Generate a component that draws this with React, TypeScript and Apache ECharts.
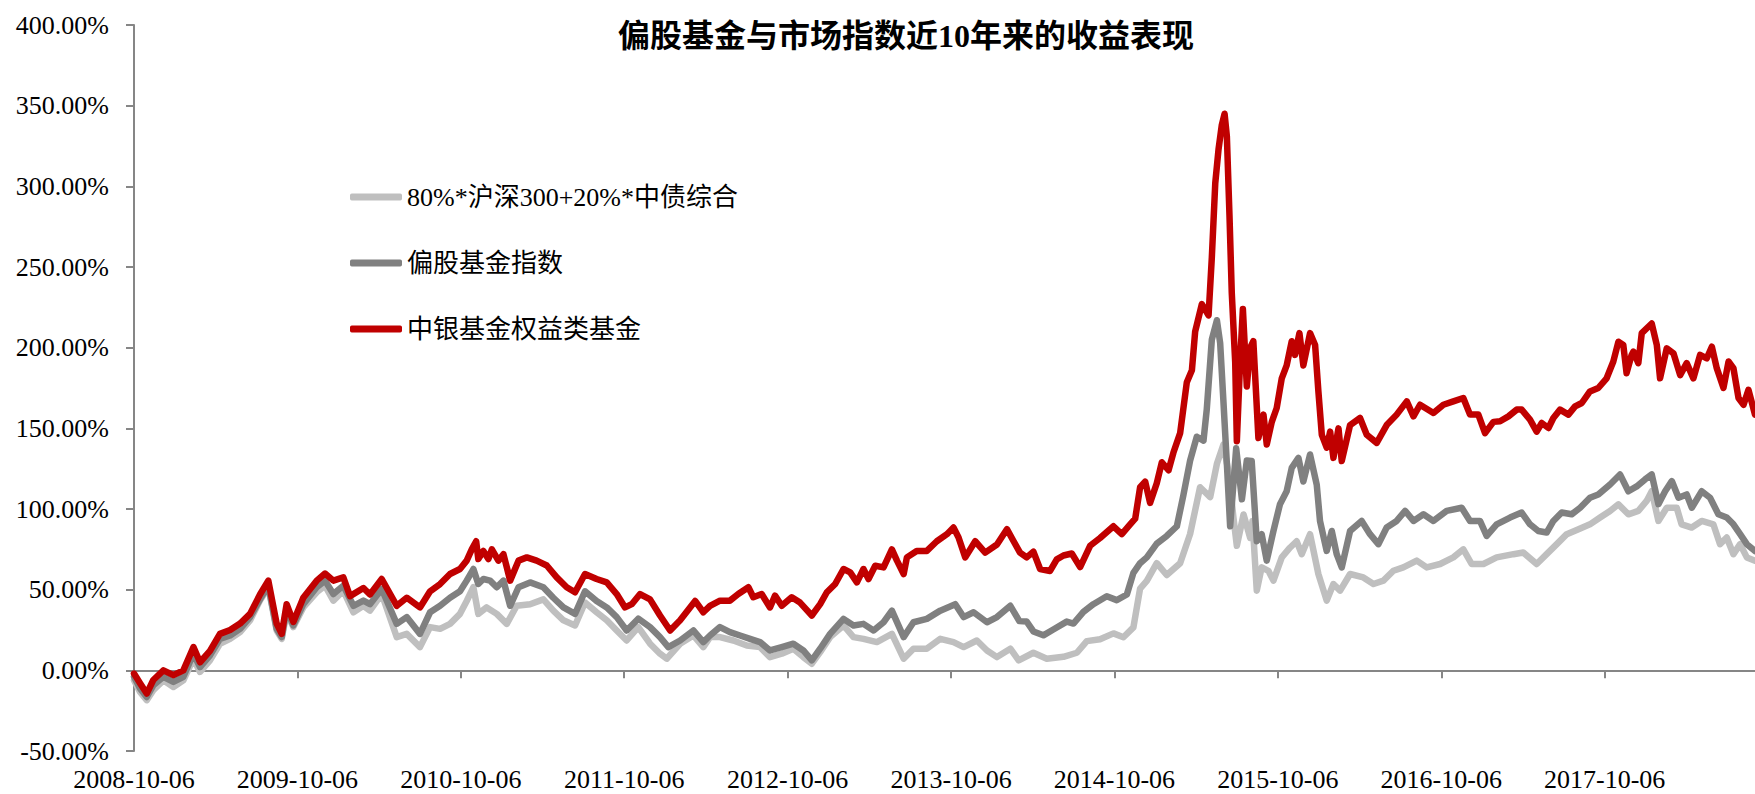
import React, { useEffect, useRef } from 'react';
import * as echarts from 'echarts';

const chartTitle = '偏股基金与市场指数近10年来的收益表现';
const seriesNames = ['80%*沪深300+20%*中债综合', '偏股基金指数', '中银基金权益类基金'];
const seriesColors = ['#BFBFBF', '#808080', '#C00000'];
// x = years elapsed since 2008-10-06
const startYear = 2008;
const tickYears = [0, 1, 2, 3, 4, 5, 6, 7, 8, 9];
const endYears = 9.92;
const yTicks = { min: -50, max: 400, step: 50 };

// 80%*沪深300+20%*中债综合
const lightT = [0, 0.037, 0.078, 0.118, 0.18, 0.241, 0.302, 0.364, 0.404, 0.465, 0.526, 0.588, 0.649, 0.71, 0.771, 0.822, 0.873, 0.904, 0.934, 0.975, 1.036, 1.118, 1.169, 1.22, 1.281, 1.343, 1.404, 1.444, 1.516, 1.608, 1.669,
  1.75, 1.812, 1.873, 1.934, 1.995, 2.036, 2.077, 2.107, 2.158, 2.22, 2.281, 2.342, 2.424, 2.505, 2.566, 2.628, 2.699, 2.76, 2.831, 2.893, 2.954, 3.015, 3.086, 3.158, 3.219, 3.26, 3.342, 3.423, 3.484, 3.525,
  3.586, 3.668, 3.75, 3.831, 3.892, 3.964, 4.035, 4.096, 4.148, 4.199, 4.26, 4.342, 4.403, 4.464, 4.546, 4.638, 4.71, 4.77, 4.852, 4.934, 5.015, 5.077, 5.158, 5.22, 5.281, 5.363, 5.414,
  5.504, 5.586, 5.688, 5.77, 5.831, 5.912, 5.994, 6.055, 6.116, 6.157, 6.198, 6.259, 6.32, 6.402, 6.463, 6.524, 6.586, 6.627, 6.667, 6.698, 6.729, 6.749, 6.79, 6.831,
  6.845, 6.871, 6.901, 6.942, 6.973, 7.024, 7.074, 7.115, 7.146, 7.197, 7.248, 7.299, 7.34, 7.381, 7.442, 7.523, 7.585, 7.646, 7.707, 7.768, 7.85, 7.911, 7.993, 8.074, 8.135, 8.186, 8.258, 8.339,
  8.442, 8.502, 8.584, 8.645, 8.707, 8.768, 8.84, 8.91, 8.972, 9.033, 9.084, 9.145, 9.206, 9.257, 9.288, 9.329, 9.38, 9.441, 9.471, 9.533, 9.594, 9.665, 9.706, 9.747, 9.788, 9.829, 9.87, 9.92];
const lightV = [-6.2, -13.4, -18.5, -12.3, -6.2, -10.3, -6.2, 7.2, -1, 6.2, 16.5, 19.5, 23.7, 30.9, 43.2, 51.5, 24.7, 19.5, 36, 26.8, 39, 48.4, 52.5, 43.2, 49.4, 36, 40, 37, 47.3, 20.6, 22.6,
  14.4, 26.8, 25.7, 28.8, 35, 43, 51.5, 35, 39, 35, 28.8, 40, 41, 44, 37, 31, 27.8, 42, 36, 31, 24.7, 18.5, 26.8, 16.5, 10.3, 7.2, 16.5, 21.6, 14.4, 20.6,
  20.6, 18.5, 15.4, 14.4, 8.2, 10.3, 13.4, 8.2, 4.1, 11.3, 20.6, 27.8, 20.6, 19.5, 17.5, 22.6, 7.2, 13.4, 13.4, 19.5, 17.5, 14.4, 18.5, 12.3, 8.2, 13.4, 6.2,
  10.9, 7.2, 8.4, 10.9, 18.1, 19.3, 22.9, 20.5, 26.6, 50.7, 55.5, 66.4, 59.1, 66.4, 84.5, 113.5, 107.4, 128, 140, 123, 94, 77.2, 96.6, 82,
  92.6, 49.4, 63.8, 61.7, 55.6, 70, 76, 80, 72, 84.4, 59.7, 43.2, 53.5, 49.4, 59.7, 57.6, 53.5, 55.6, 61.7, 63.8, 68, 63.8, 65.9, 70, 75, 65.9, 65.9, 70,
  72, 73, 65.9, 72, 78.2, 84.4, 87.5, 90.5, 94.7, 98.8, 102.9, 96.7, 98.8, 105, 111, 92.6, 100.8, 100.8, 90.5, 88.5, 92.6, 90.5, 78.2, 82.3, 72, 78.2, 70, 68];

// 偏股基金指数
const darkT = [0, 0.037, 0.078, 0.118, 0.18, 0.241, 0.302, 0.364, 0.404, 0.465, 0.526, 0.588, 0.649, 0.71, 0.771, 0.822, 0.873, 0.904, 0.934, 0.975, 1.036, 1.118, 1.169, 1.22, 1.281, 1.343, 1.404, 1.444, 1.516, 1.608, 1.669,
  1.75, 1.812, 1.873, 1.934, 1.995, 2.036, 2.077, 2.107, 2.138, 2.179, 2.22, 2.261, 2.302, 2.353, 2.424, 2.505, 2.566, 2.628, 2.699, 2.76, 2.831, 2.893, 2.954, 3.015, 3.086, 3.158, 3.219, 3.27, 3.342, 3.423, 3.484, 3.525,
  3.586, 3.647, 3.709, 3.77, 3.831, 3.892, 3.964, 4.035, 4.096, 4.148, 4.199, 4.26, 4.342, 4.403, 4.464, 4.526, 4.587, 4.638, 4.71, 4.77, 4.852, 4.934, 5.026, 5.077, 5.138, 5.22, 5.281, 5.363, 5.418,
  5.463, 5.504, 5.565, 5.626, 5.708, 5.749, 5.81, 5.871, 5.953, 6.014, 6.076, 6.116, 6.157, 6.198, 6.259, 6.32, 6.382, 6.422, 6.463, 6.504, 6.545, 6.565, 6.596, 6.627, 6.647, 6.667, 6.688, 6.708, 6.745, 6.78, 6.81,
  6.84, 6.871, 6.901, 6.932, 6.973, 7.013, 7.054, 7.085, 7.126, 7.156, 7.197, 7.238, 7.258, 7.299, 7.33, 7.36, 7.391, 7.442, 7.513, 7.564, 7.615, 7.666, 7.727, 7.779, 7.83, 7.891, 7.952, 8.033, 8.125, 8.176, 8.237, 8.278, 8.339,
  8.421, 8.492, 8.543, 8.594, 8.645, 8.686, 8.737, 8.798, 8.85, 8.91, 8.961, 9.033, 9.094, 9.145, 9.196, 9.247, 9.288, 9.329, 9.37, 9.411, 9.452, 9.502, 9.533, 9.594, 9.645, 9.696, 9.747, 9.788, 9.829, 9.87, 9.92];
const darkV = [-4, -11.3, -16.5, -9.3, -4, -7.2, -4, 10.3, 2, 9.3, 19.5, 21.6, 25.7, 33, 44, 52.5, 25.7, 20.6, 38, 27.8, 41, 51.5, 55.6, 47.3, 52.5, 40, 43.2, 41, 50.4, 28.8, 33,
  22.6, 36, 40, 45, 49, 55.6, 62.8, 53.5, 56.6, 55.6, 51.5, 55.6, 40, 51.5, 54.5, 51.5, 45, 39, 35, 49, 43, 39, 33, 24.7, 32, 26.8, 20.6, 14.4, 18.5, 24.7, 17.5, 21.6,
  26.8, 23.7, 21.6, 19.5, 17.5, 12.3, 14.4, 16.5, 12.3, 6.2, 13.4, 22.6, 31.9, 27.8, 28.8, 24.7, 29.8, 37, 20.6, 29.8, 31.9, 37, 41, 33, 36, 29.8, 33, 40, 30.5,
  30.2, 24.1, 21.7, 25.3, 30.2, 29, 36.2, 41, 45.9, 43.5, 47, 60.4, 66.4, 70, 78.5, 83.3, 89.3, 108.6, 130, 144.8, 142.4, 161.7, 205, 217, 202.8, 166.6, 128, 89.3, 137.6, 106, 130,
  129.7, 80, 84.4, 68, 86.4, 103, 111, 125.5, 131.7, 117, 133.8, 115, 92.6, 74, 86.4, 72, 63.8, 86.4, 92.6, 84.4, 78.2, 88.5, 92.6, 98.8, 92.6, 96.7, 92.6, 98.8, 100.8, 92.6, 92.6, 83.3, 90.5,
  94.7, 97.8, 90.5, 86.4, 85.4, 92.6, 97.8, 96.7, 100.8, 107, 109, 115.2, 121.4, 111, 114, 118.3, 121.4, 103, 111, 117.3, 107, 109, 100.8, 111, 107, 96.7, 94.7, 90.5, 84.4, 78.2, 74];

// 中银基金权益类基金
const redT = [0, 0.037, 0.078, 0.118, 0.18, 0.241, 0.302, 0.364, 0.404, 0.465, 0.526, 0.588, 0.649, 0.71, 0.771, 0.822, 0.873, 0.904, 0.934, 0.975, 1.036, 1.118, 1.169, 1.22, 1.281, 1.322, 1.404, 1.444, 1.516, 1.608, 1.669,
  1.75, 1.812, 1.873, 1.934, 1.995, 2.036, 2.067, 2.094, 2.107, 2.138, 2.169, 2.19, 2.23, 2.261, 2.302, 2.353, 2.404, 2.464, 2.526, 2.587, 2.648, 2.699, 2.76, 2.831, 2.893, 2.954, 3.005, 3.046, 3.097, 3.158, 3.219, 3.281, 3.342, 3.403, 3.434, 3.484, 3.525,
  3.586, 3.647, 3.698, 3.76, 3.79, 3.841, 3.892, 3.923, 3.964, 4.025, 4.076, 4.148, 4.199, 4.24, 4.291, 4.342, 4.383, 4.424, 4.464, 4.495, 4.536, 4.587, 4.638, 4.669, 4.71, 4.73, 4.79, 4.852, 4.913, 4.975, 5.015, 5.046, 5.087, 5.148, 5.209, 5.281, 5.342, 5.383,
  5.422, 5.463, 5.504, 5.545, 5.606, 5.647, 5.688, 5.739, 5.79, 5.851, 5.912, 5.994, 6.045, 6.096, 6.127, 6.157, 6.188, 6.218, 6.259, 6.29, 6.331, 6.361, 6.402, 6.443, 6.474, 6.494, 6.535, 6.576, 6.596, 6.617, 6.637, 6.657, 6.674, 6.688, 6.704, 6.718, 6.739, 6.749, 6.769, 6.786, 6.81, 6.831,
  6.85, 6.881, 6.912, 6.932, 6.963, 6.993, 7.024, 7.054, 7.085, 7.105, 7.132, 7.156, 7.197, 7.228, 7.248, 7.269, 7.299, 7.32, 7.34, 7.371, 7.391, 7.442, 7.503, 7.544, 7.605, 7.666, 7.727, 7.789, 7.83, 7.87, 7.952, 8.013, 8.074, 8.135, 8.176, 8.227, 8.268, 8.319,
  8.36, 8.411, 8.462, 8.492, 8.543, 8.584, 8.615, 8.656, 8.686, 8.727, 8.778, 8.819, 8.86, 8.91, 8.961, 9.012, 9.053, 9.084, 9.114, 9.134, 9.165, 9.176, 9.206, 9.227, 9.288, 9.319, 9.339, 9.38, 9.421, 9.462, 9.502, 9.543, 9.584, 9.625, 9.656, 9.686, 9.727, 9.758, 9.788, 9.819, 9.85, 9.88, 9.92];
const redV = [-2, -8, -14.4, -6, 0, -3, 0, 14.4, 5, 12, 22.6, 25, 29, 35, 47, 55.6, 29, 22.6, 41, 30, 45, 55.6, 60, 55.6, 57.6, 46, 51, 47, 56.6, 40, 45,
  39, 49, 53.5, 59.7, 62.8, 68, 75, 80, 69, 74, 69, 75, 68, 72, 55.6, 68, 70, 68, 65, 57.6, 51.5, 48.4, 59.7, 56.6, 54.5, 47.3, 39, 41, 47.3, 44, 34, 24.7, 31, 39, 43, 36, 40,
  43.2, 43.2, 47.3, 51.5, 45.3, 47.3, 39, 46.3, 40, 45.3, 42, 34, 41, 48.4, 53.5, 62.8, 60.7, 54.5, 62.8, 56.6, 64.8, 63.8, 75, 68, 59.7, 70, 74, 74, 80, 84.4, 88.5, 82.3, 70, 80, 73, 78, 87.5, 80,
  73, 70, 73.6, 62.8, 61.6, 68.8, 71.2, 72.4, 64, 77.2, 82, 89.3, 84.5, 90.5, 94, 113.5, 117, 103.8, 116, 129, 124, 135, 147, 178.6, 186, 210, 227, 220, 256, 302, 323, 338, 345, 331, 282, 234, 191, 142, 191, 224, 176, 200,
  204, 144, 158.5, 140, 154, 162.6, 181, 189, 204, 195.5, 209, 189, 209, 201.7, 173, 146, 138, 148, 131.7, 150, 129.7, 152, 156.4, 146, 141, 152, 158.5, 166.7, 157.4, 164.6, 159.5, 164.6, 166.7, 168.8, 158.5, 158.5, 147, 154,
  154.4, 157.4, 161.6, 161.6, 155.4, 148, 153.3, 150.2, 156.4, 161.6, 158.5, 163.6, 165.7, 172.9, 175, 181, 191.4, 203.7, 201.7, 184.2, 195.5, 197.6, 190.4, 209, 215, 201.7, 181, 199.6, 196.5, 183, 190.4, 181, 195.5, 193.4, 200.6, 187.3, 175, 191.4, 187.3, 168.8, 164.6, 173.9, 158.5];

const serifCjk = '"Liberation Serif", "Times New Roman", "Noto Sans CJK SC", serif';
const axisGray = '#868686';

function pairs(t: number[], v: number[]) {
  return t.map((x, i) => [x, v[i]]);
}

export default function App() {
  const ref = useRef<HTMLDivElement>(null);
  useEffect(() => {
    document.body.style.margin = '0';
    if (!ref.current) return;
    const chart = echarts.init(ref.current, null, { renderer: 'svg' });
    const dataSets = [pairs(lightT, lightV), pairs(darkT, darkV), pairs(redT, redV)];
    chart.setOption({
      animation: false,
      backgroundColor: '#ffffff',
      title: {
        text: chartTitle,
        left: 901,
        top: 15,
        textAlign: 'center',
        textStyle: { fontSize: 32, fontWeight: 'bold', color: '#000', fontFamily: serifCjk },
      },
      legend: {
        orient: 'vertical',
        left: 345,
        top: 177,
        itemWidth: 52,
        itemHeight: 7,
        itemGap: 36,
        icon: 'roundRect',
        data: seriesNames,
        textStyle: { fontSize: 26, color: '#000', fontFamily: serifCjk, lineHeight: 30 },
      },
      grid: { left: 134, right: 0, top: 25, bottom: 43, containLabel: false },
      xAxis: [
        {
          type: 'value',
          min: 0,
          max: endYears,
          position: 'bottom',
          axisLine: { show: false, onZero: false },
          axisTick: { show: false },
          splitLine: { show: false },
          axisLabel: {
            customValues: tickYears,
            formatter: (v: number) => `${startYear + Math.round(v)}-10-06`,
            fontSize: 26,
            color: '#000',
            fontFamily: serifCjk,
            margin: 15,
          },
        },
        {
          type: 'value',
          min: 0,
          max: endYears,
          position: 'bottom',
          axisLine: { show: true, onZero: true, lineStyle: { color: axisGray, width: 2 } },
          axisTick: { show: true, customValues: tickYears, length: 8, lineStyle: { color: axisGray, width: 2 } },
          axisLabel: { show: false },
          splitLine: { show: false },
        },
      ],
      yAxis: {
        type: 'value',
        min: yTicks.min,
        max: yTicks.max,
        interval: yTicks.step,
        axisLine: { show: true, onZero: false, lineStyle: { color: axisGray, width: 2 } },
        axisTick: { show: true, length: 8, lineStyle: { color: axisGray, width: 2 } },
        splitLine: { show: false },
        axisLabel: {
          formatter: (v: number) => `${v.toFixed(2)}%`,
          fontSize: 26,
          color: '#000',
          fontFamily: serifCjk,
          margin: 25,
        },
      },
      series: dataSets.map((d, i) => ({
        name: seriesNames[i],
        type: 'line',
        xAxisIndex: 0,
        yAxisIndex: 0,
        data: d,
        showSymbol: false,
        symbol: 'none',
        z: 2 + i,
        itemStyle: { color: seriesColors[i] },
        lineStyle: { color: seriesColors[i], width: 6.5, cap: 'round', join: 'round' },
      })),
    });
    return () => chart.dispose();
  }, []);
  return <div ref={ref} style={{ width: 1755, height: 794 }} />;
}
